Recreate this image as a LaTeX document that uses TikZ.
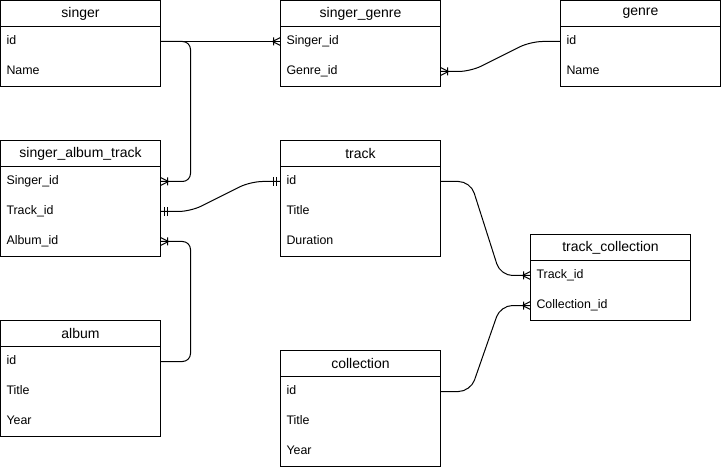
\documentclass[tikz,border=0pt]{standalone}
\usepackage{fontspec}
\setmainfont{Liberation Sans}
\usetikzlibrary{positioning,arrows.meta}

% crow's foot tips
\pgfdeclarearrow{
  name = crowmany,
  setup code = {
    \pgfarrowssettipend{0pt}
    \pgfarrowssetlineend{0pt}
    \pgfarrowssetbackend{-6pt}
    \pgfarrowshullpoint{0pt}{3pt}
    \pgfarrowshullpoint{0pt}{-3pt}
    \pgfarrowshullpoint{-6pt}{0pt}
  },
  drawing code = {
    \pgfpathmoveto{\pgfqpoint{0pt}{3pt}}
    \pgfpathlineto{\pgfqpoint{-6pt}{0pt}}
    \pgfpathlineto{\pgfqpoint{0pt}{-3pt}}
    \pgfpathmoveto{\pgfqpoint{-5.25pt}{3pt}}
    \pgfpathlineto{\pgfqpoint{-5.25pt}{-3pt}}
    \pgfusepathqstroke
  }
}
\pgfdeclarearrow{
  name = crowone,
  setup code = {
    \pgfarrowssettipend{0pt}
    \pgfarrowssetlineend{0pt}
    \pgfarrowssetbackend{-6pt}
    \pgfarrowshullpoint{0pt}{3.4pt}
    \pgfarrowshullpoint{0pt}{-3.4pt}
    \pgfarrowshullpoint{-6pt}{3.4pt}
    \pgfarrowshullpoint{-6pt}{-3.4pt}
  },
  drawing code = {
    \pgfpathmoveto{\pgfqpoint{-3pt}{3.4pt}}
    \pgfpathlineto{\pgfqpoint{-3pt}{-3.4pt}}
    \pgfpathmoveto{\pgfqpoint{-5.6pt}{3.4pt}}
    \pgfpathlineto{\pgfqpoint{-5.6pt}{-3.4pt}}
    \pgfusepathqstroke
  }
}

\begin{document}
\begin{tikzpicture}[x=0.75pt,y=-0.75pt,line width=0.75pt]
    \tikzset{tablehead/.style={draw,minimum width=120pt,minimum height=19.5pt,
        inner sep=0pt,outer sep=0pt,font=\fontsize{10.5}{12}\selectfont}}
    \tikzset{tablerow/.style={minimum height=22.5pt,text width=111pt,inner xsep=4.5pt,
        inner ysep=0pt,outer sep=0pt,align=left,text height=6pt,text depth=1.1pt,
        font=\fontsize{9.3}{11}\selectfont}}
    \tikzset{erlink/.style={rounded corners=6pt}}

    \useasboundingbox (-0.5,-0.5) rectangle (720.5,469.5);

    % singer
    \node[tablehead] (singer) at (80,13) {singer};
    \node[tablerow,below=0pt of singer] (singer-id) {id};
    \node[tablerow,below=0pt of singer-id] (singer-name) {Name};
    \draw (singer.south west) rectangle (singer-name.south east);

    % singer_genre
    \node[tablehead] (singergenre) at (360,13) {singer\_genre};
    \node[tablerow,below=0pt of singergenre] (singergenre-singer) {Singer\_id};
    \node[tablerow,below=0pt of singergenre-singer] (singergenre-genre) {Genre\_id};
    \draw (singergenre.south west) rectangle (singergenre-genre.south east);

    % genre
    \node[tablehead] (genre) at (640,13) {genre};
    \node[tablerow,below=0pt of genre] (genre-id) {id};
    \node[tablerow,below=0pt of genre-id] (genre-name) {Name};
    \draw (genre.south west) rectangle (genre-name.south east);

    % singer_album_track
    \node[tablehead] (sat) at (80,153) {singer\_album\_track};
    \node[tablerow,below=0pt of sat] (sat-singer) {Singer\_id};
    \node[tablerow,below=0pt of sat-singer] (sat-track) {Track\_id};
    \node[tablerow,below=0pt of sat-track] (sat-album) {Album\_id};
    \draw (sat.south west) rectangle (sat-album.south east);

    % track
    \node[tablehead] (track) at (360,153) {track};
    \node[tablerow,below=0pt of track] (track-id) {id};
    \node[tablerow,below=0pt of track-id] (track-title) {Title};
    \node[tablerow,below=0pt of track-title] (track-duration) {Duration};
    \draw (track.south west) rectangle (track-duration.south east);

    % track_collection
    \node[tablehead] (trackcoll) at (610,247) {track\_collection};
    \node[tablerow,below=0pt of trackcoll] (trackcoll-track) {Track\_id};
    \node[tablerow,below=0pt of trackcoll-track] (trackcoll-coll) {Collection\_id};
    \draw (trackcoll.south west) rectangle (trackcoll-coll.south east);

    % album
    \node[tablehead] (album) at (80,333) {album};
    \node[tablerow,below=0pt of album] (album-id) {id};
    \node[tablerow,below=0pt of album-id] (album-title) {Title};
    \node[tablerow,below=0pt of album-title] (album-year) {Year};
    \draw (album.south west) rectangle (album-year.south east);

    % collection
    \node[tablehead] (collection) at (360,363) {collection};
    \node[tablerow,below=0pt of collection] (collection-id) {id};
    \node[tablerow,below=0pt of collection-id] (collection-title) {Title};
    \node[tablerow,below=0pt of collection-title] (collection-year) {Year};
    \draw (collection.south west) rectangle (collection-year.south east);

    % relations
    \draw[-{crowmany}] (singer-id.east) -- (singergenre-singer.west);
    \draw[erlink,-{crowmany}] (singer-id.east) -- ++(30,0) |- (sat-singer.east);
    \draw[erlink,-{crowmany}] (album-id.east) -- ++(30,0) |- (sat-album.east);
    \draw[erlink,rounded corners=9pt,-{crowmany}] (genre-id.west) -- ++(-30,0)
      -- ([xshift=22.5pt]singergenre-genre.east) -- (singergenre-genre.east);
    \draw[erlink,rounded corners=9pt,{crowone}-{crowone}] (sat-track.east) -- ++(30,0)
      -- ([xshift=-22.5pt]track-id.west) -- (track-id.west);
    \draw[erlink,rounded corners=9pt,-{crowmany}] (track-id.east) -- ++(30,0)
      -- ([xshift=-22.5pt]trackcoll-track.west) -- (trackcoll-track.west);
    \draw[erlink,rounded corners=9pt,-{crowmany}] (collection-id.east) -- ++(30,0)
      -- ([xshift=-22.5pt]trackcoll-coll.west) -- (trackcoll-coll.west);
\end{tikzpicture}
\end{document}
